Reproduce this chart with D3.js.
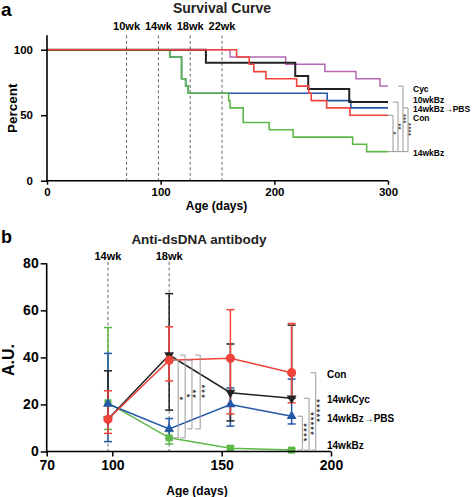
<!DOCTYPE html>
<html><head><meta charset="utf-8">
<script src="https://cdn.jsdelivr.net/npm/d3@7"></script>
<style>
html,body{margin:0;padding:0;background:#fff;}
svg{display:block;font-family:"Liberation Sans",Arial,Helvetica,sans-serif;}
</style></head><body>
<svg id="chart" width="472" height="497"></svg>
<script>
// ================= Panel a : survival curve data =================
const survXTicks = [0, 100, 200, 300];
const survYTicks = [0, 50, 100];
const weekDaysA = [70, 98, 126, 154];
const weekLabelsA = ["10wk", "14wk", "18wk", "22wk"];

const cycDays  = [0, 161, 210, 244.5, 271.8, 292.9, 300];
const cycPct   = [100, 94.4, 88.9, 83.3, 77.8, 72.2, 72.2];
const bz10Days = [0, 139.8, 218.4, 229.8, 265.9, 300];
const bz10Pct  = [100, 90, 80, 70, 60, 60];
const pbsDays  = [0, 108, 118.4, 122, 124.3, 246.5, 267.3, 300];
const pbsPct   = [100, 94.4, 77.8, 72.2, 66.7, 61.1, 55.6, 55.6];
const conDays  = [0, 166.8, 177.9, 182, 192.6, 219.6, 230.3, 232.5, 246, 266.5, 300];
const conPct   = [100, 94.4, 88.9, 83.3, 77.8, 72.2, 66.7, 61.1, 55.6, 50, 50];
const bz14Days = [0, 108, 118.4, 122, 124.3, 159.8, 161, 172.6, 195.5, 216.6, 268.9, 281.2, 300];
const bz14Pct  = [100, 94.4, 77.8, 72.2, 66.7, 61.1, 55.6, 44.4, 38.9, 33.3, 27.8, 22.2, 22.2];

const survNames = ["Cyc", "10wkBz", "14wkBz\u2192PBS", "Con", "14wkBz"];
// significance comparisons vs 14wkBz
const sigAGroups = ["Con", "10wkBz", "Cyc", "14wkBz\u2192PBS"];
const sigAStars  = ["*", "**", "***", "****"];

// ================= Panel b : anti-dsDNA data =================
const antiXTicks = [70, 100, 150, 200];
const antiYTicks = [0, 20, 40, 60, 80];
const antiDays = [98, 126, 154, 182];
const weekDaysB = [98, 126];
const weekLabelsB = ["14wk", "18wk"];

const conMean = [13.7, 38.8, 39.6, 33.5];
const conHi   = [25.8, 53.0, 60.3, 54.4];
const conLo   = [7.7, 30.0, 16.0, 20.7];
const cycMean = [13.7, 41.0, 25.0, 22.6];
const cycHi   = [34.3, 67.1, 45.7, 53.7];
const cycLo   = [13.7, 17.6, 13.0, 22.6];
const pbsMean = [20.2, 9.6, 20.0, 15.0];
const pbsHi   = [41.7, 14.0, 27.0, 30.8];
const pbsLo   = [4.2, 5.5, 10.8, 11.7];
const bzMean  = [20.7, 5.8, 1.4, 0.6];
const bzHi    = [52.7, 8.5, 2.4, 1.2];
const bzLo    = [9.4, 3.2, 0.5, 0.2];

const antiNames = ["Con", "14wkCyc", "14wkBz\u2192PBS", "14wkBz"];
const sigB2 = [["Con","14wkBz","*"],["14wkCyc","14wkBz","*"],["Con","14wkBz\u2192PBS","**"],["14wkCyc","14wkBz\u2192PBS","***"]];
const sigB4 = [["14wkBz\u2192PBS","14wkBz","****"],["14wkCyc","14wkBz","*****"],["Con","14wkBz","*****"]];

// ================= Styles =================
const C = {red:"#f0443a", green:"#5db848", blue:"#2457a8", purple:"#b468b4", black:"#222222", grey:"#9a9a9a", dash:"#666"};
const FONT = '"Liberation Sans", Arial, Helvetica, sans-serif';

const svg = d3.select("#chart");

// vertical star stack as one rotated text
function starStack(g, x, cy, stars, fs, ls) {
  g.append("text")
    .attr("transform", `translate(${x - fs * 0.55},${cy}) rotate(90)`)
    .attr("text-anchor", "middle").attr("font-size", fs).attr("font-weight", "bold")
    .attr("letter-spacing", ls).attr("fill", "#333").text(stars);
}

// ---------------- Panel a ----------------
const xA = d3.scaleLinear().domain([0, 300]).range([47, 388]);
const yA = d3.scaleLinear().domain([0, 100]).range([180.7, 49.7]);

svg.append("text").attr("x", 1).attr("y", 16).attr("font-size", 19).attr("font-weight", "bold").text("a");
svg.append("text").attr("x", 222).attr("y", 13).attr("text-anchor", "middle").attr("font-size", 14)
  .attr("font-weight", "bold").attr("fill", "#222").text("Survival Curve");

// dashed week lines
const gA = svg.append("g");
gA.selectAll("line.wk").data(weekDaysA).join("line")
  .attr("x1", d => xA(d)).attr("x2", d => xA(d))
  .attr("y1", yA(111)).attr("y2", yA(0))
  .attr("stroke", C.dash).attr("stroke-width", 1).attr("stroke-dasharray", "3,2.5");
gA.selectAll("text.wk").data(weekLabelsA).join("text")
  .attr("x", (d, i) => xA(weekDaysA[i])).attr("y", 30)
  .attr("text-anchor", "middle").attr("font-size", 11).attr("font-weight", "bold").text(d => d);

// curves
const survData = {
  "Cyc": {days: cycDays, pct: cycPct, color: C.purple, w: 1.5},
  "10wkBz": {days: bz10Days, pct: bz10Pct, color: C.black, w: 2},
  "14wkBz\u2192PBS": {days: pbsDays, pct: pbsPct, color: C.blue, w: 1.6},
  "Con": {days: conDays, pct: conPct, color: C.red, w: 1.6},
  "14wkBz": {days: bz14Days, pct: bz14Pct, color: C.green, w: 1.6}
};
const stepLine = d3.line().x(d => xA(d[0])).y(d => yA(d[1])).curve(d3.curveStepAfter);
["Cyc", "14wkBz\u2192PBS", "14wkBz", "10wkBz", "Con"].forEach(name => {
  const s = survData[name];
  gA.append("path").datum(s.days.map((d, i) => [d, s.pct[i]]))
    .attr("d", stepLine).attr("fill", "none").attr("stroke", s.color).attr("stroke-width", s.w);
});

// axes
const axYA = d3.axisLeft(yA).tickValues(survYTicks).tickSize(6).tickPadding(8).tickSizeOuter(0);
const gyA = svg.append("g").attr("transform", `translate(${xA(0)},0)`).call(axYA);
const axXA = d3.axisBottom(xA).tickValues(survXTicks).tickSize(4).tickPadding(3.5).tickSizeOuter(0);
const gxA = svg.append("g").attr("transform", `translate(0,${yA(0)})`).call(axXA);
[gyA, gxA].forEach(g => {
  g.select(".domain").remove();
  g.selectAll("line").attr("stroke", "#000").attr("stroke-width", 1.5);
  g.selectAll("text").attr("font-size", 11.5).attr("font-weight", "bold").attr("fill", "#000").attr("font-family", FONT);
});
svg.append("line").attr("x1", xA(0)).attr("x2", xA(0)).attr("y1", yA(111)).attr("y2", yA(0) + 0.75)
  .attr("stroke", "#000").attr("stroke-width", 1.6);
svg.append("line").attr("x1", xA(0) - 0.8).attr("x2", xA(300)).attr("y1", yA(0)).attr("y2", yA(0))
  .attr("stroke", "#000").attr("stroke-width", 1.6);
svg.append("text").attr("transform", `translate(17,${(yA(0) + yA(100)) / 2 - 7}) rotate(-90)`)
  .attr("text-anchor", "middle").attr("font-size", 13.5).attr("font-weight", "bold").text("Percent");
svg.append("text").attr("x", (xA(0) + xA(300)) / 2 - 1).attr("y", 209.5).attr("text-anchor", "middle")
  .attr("font-size", 12).attr("font-weight", "bold").text("Age (days)");

// group labels
const labelNudgeA = [2.5, -2.3, 1.5, 3.2, 0.9];
survNames.forEach((n, i) => {
  const s = survData[n];
  svg.append("text").attr("x", 413).attr("y", yA(s.pct[s.pct.length - 1]) + labelNudgeA[i] + 3)
    .attr("font-size", 8.5).attr("font-weight", "bold").text(n);
});

// brackets panel a
const bracketOffA = [5, 10, 15, 20];
const bottomA = yA(bz14Pct[bz14Pct.length - 1]);
sigAGroups.forEach((n, i) => {
  const s = survData[n];
  const top = yA(s.pct[s.pct.length - 1]);
  const vx = xA(300) + bracketOffA[i];
  svg.append("path").attr("d", `M${vx - 5},${top}H${vx}V${bottomA}H${vx - 5}`)
    .attr("fill", "none").attr("stroke", C.grey).attr("stroke-width", 1);
  starStack(svg, vx + 2.3, (top + bottomA) / 2, sigAStars[i], 7, 0.6);
});

// ---------------- Panel b ----------------
const xB = d3.scaleLinear().domain([70, 200]).range([46.7, 331]);
const yB = d3.scaleLinear().domain([0, 80]).range([451.5, 263.3]);

svg.append("text").attr("x", 1).attr("y", 243).attr("font-size", 18).attr("font-weight", "bold").text("b");
svg.append("text").attr("x", 199).attr("y", 244).attr("text-anchor", "middle").attr("font-size", 13.5)
  .attr("font-weight", "bold").attr("fill", "#222").text("Anti-dsDNA antibody");

const gB = svg.append("g");
gB.selectAll("line.wk").data(weekDaysB).join("line")
  .attr("x1", d => xB(d)).attr("x2", d => xB(d))
  .attr("y1", 262).attr("y2", yB(0))
  .attr("stroke", C.dash).attr("stroke-width", 1).attr("stroke-dasharray", "3,2.5");
gB.selectAll("text.wk").data(weekLabelsB).join("text")
  .attr("x", (d, i) => xB(weekDaysB[i])).attr("y", 259.5)
  .attr("text-anchor", "middle").attr("font-size", 11).attr("font-weight", "bold").text(d => d);

const antiData = {
  "Con": {mean: conMean, hi: conHi, lo: conLo, color: C.red, sym: "circle"},
  "14wkCyc": {mean: cycMean, hi: cycHi, lo: cycLo, color: C.black, sym: "down"},
  "14wkBz\u2192PBS": {mean: pbsMean, hi: pbsHi, lo: pbsLo, color: C.blue, sym: "up"},
  "14wkBz": {mean: bzMean, hi: bzHi, lo: bzLo, color: C.green, sym: "square"}
};
const drawOrder = ["14wkBz", "14wkBz\u2192PBS", "14wkCyc", "Con"];
const lineB = d3.line().x(d => xB(d[0])).y(d => yB(d[1]));
// error bars
drawOrder.forEach(n => {
  const s = antiData[n];
  const g = gB.append("g").attr("stroke", s.color).attr("stroke-width", 1.5);
  antiDays.forEach((d, i) => {
    const x = xB(d);
    g.append("line").attr("x1", x).attr("x2", x).attr("y1", yB(s.hi[i])).attr("y2", yB(s.lo[i]));
    g.append("line").attr("x1", x - 4).attr("x2", x + 4).attr("y1", yB(s.hi[i])).attr("y2", yB(s.hi[i]));
    g.append("line").attr("x1", x - 4).attr("x2", x + 4).attr("y1", yB(s.lo[i])).attr("y2", yB(s.lo[i]));
  });
});
// lines and markers
drawOrder.forEach(n => {
  const s = antiData[n];
  gB.append("path").datum(antiDays.map((d, i) => [d, s.mean[i]])).attr("d", lineB)
    .attr("fill", "none").attr("stroke", s.color).attr("stroke-width", 1.5);
});
drawOrder.forEach(n => {
  const s = antiData[n];
  antiDays.forEach((d, i) => {
    const x = xB(d), y = yB(s.mean[i]);
    if (s.sym === "circle") {
      gB.append("circle").attr("cx", x).attr("cy", y).attr("r", 4.6).attr("fill", s.color);
    } else if (s.sym === "square") {
      gB.append("path").attr("d", d3.symbol(d3.symbolSquare, 50)()).attr("transform", `translate(${x},${y})`).attr("fill", s.color);
    } else if (s.sym === "up") {
      gB.append("path").attr("d", d3.symbol(d3.symbolTriangle, 42)()).attr("transform", `translate(${x},${y})`).attr("fill", s.color);
    } else {
      gB.append("path").attr("d", d3.symbol(d3.symbolTriangle, 42)()).attr("transform", `translate(${x},${y}) rotate(180)`).attr("fill", s.color);
    }
  });
});

// axes b
const axYB = d3.axisLeft(yB).tickValues(antiYTicks).tickSize(6).tickPadding(2).tickSizeOuter(0);
const gyB = svg.append("g").attr("transform", `translate(${xB(70)},0)`).call(axYB);
const axXB = d3.axisBottom(xB).tickValues(antiXTicks).tickSize(5).tickPadding(3.5).tickSizeOuter(0);
const gxB = svg.append("g").attr("transform", `translate(0,${yB(0)})`).call(axXB);
[gyB, gxB].forEach(g => {
  g.select(".domain").remove();
  g.selectAll("line").attr("stroke", "#000").attr("stroke-width", 1.5);
  g.selectAll("text").attr("font-size", 14).attr("font-weight", "bold").attr("fill", "#000").attr("font-family", FONT);
});
svg.append("line").attr("x1", xB(70)).attr("x2", xB(70)).attr("y1", yB(80)).attr("y2", yB(0) + 0.75)
  .attr("stroke", "#000").attr("stroke-width", 1.6);
svg.append("line").attr("x1", xB(70) - 0.8).attr("x2", xB(200)).attr("y1", yB(0)).attr("y2", yB(0))
  .attr("stroke", "#000").attr("stroke-width", 1.6);
svg.append("text").attr("transform", `translate(14,360) rotate(-90)`)
  .attr("text-anchor", "middle").attr("font-size", 16).attr("font-weight", "bold").text("A.U.");
svg.append("text").attr("x", 197).attr("y", 494.5).attr("text-anchor", "middle")
  .attr("font-size", 12).attr("font-weight", "bold").text("Age (days)");

// group labels b
const labelNudgeB = [1.5, 1, 2, -4.3];
antiNames.forEach((n, i) => {
  const s = antiData[n];
  svg.append("text").attr("x", 327).attr("y", yB(s.mean[3]) + labelNudgeB[i] + 3.6)
    .attr("font-size", 10).attr("font-weight", "bold").text(n);
});

// brackets b
function bracketsB(list, idx, offs) {
  const x0 = xB(antiDays[idx]);
  list.forEach((c, i) => {
    const t = yB(antiData[c[0]].mean[idx]), b = yB(antiData[c[1]].mean[idx]);
    const vx = x0 + offs[i];
    svg.append("path").attr("d", `M${vx - 5},${t}H${vx}V${b}H${vx - 5}`)
      .attr("fill", "none").attr("stroke", C.grey).attr("stroke-width", 1);
    starStack(svg, vx + 3.2, (t + b) / 2, c[2], 8.5, 1.5);
  });
}
bracketsB(sigB2, 1, [9, 16, 22.8, 31]);
bracketsB(sigB4, 3, [10.7, 17.4, 24.1]);
</script>
</body></html>
